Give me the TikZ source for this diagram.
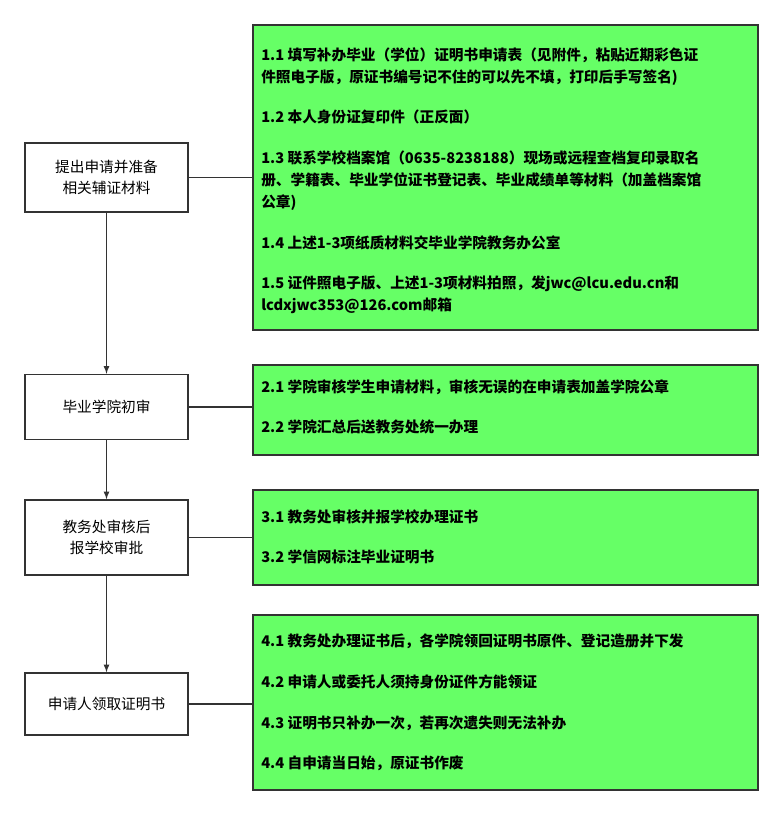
\documentclass[tikz,border=0pt]{standalone}
\usepackage{fontspec}
\setmainfont{Noto Sans CJK SC}
\begin{document}
\begin{tikzpicture}[x=0.75pt,y=-0.75pt,
  lbox/.style={draw=black!80,line width=1pt,fill=white,align=center,font=\fontsize{11}{15.5}\selectfont},
  gbox/.style={draw=black!80,line width=1pt,fill={rgb,255:red,102;green,255;blue,102}},
  gtext/.style={anchor=north west,align=left,inner sep=0pt,font=\bfseries\fontsize{11}{16.5}\selectfont},
  conn/.style={draw=black!80,line width=1pt},
  arr/.style={conn,-latex}]
\useasboundingbox (0,0) rectangle (783,816);
\fill[white] (0,0) rectangle (783,816);
\node[lbox,minimum width=163*0.75pt,minimum height=69*0.75pt] (l1) at (106.5,177.5) {提出申请并准备\\相关辅证材料};
\node[lbox,minimum width=163*0.75pt,minimum height=65*0.75pt] (l2) at (106.5,407) {毕业学院初审};
\node[lbox,minimum width=163*0.75pt,minimum height=75*0.75pt] (l3) at (106.5,537.5) {教务处审核后\\报学校审批};
\node[lbox,minimum width=163*0.75pt,minimum height=62*0.75pt] (l4) at (106.5,704) {申请人领取证明书};
\draw[gbox] (253,25) rectangle (758,330);
\draw[gbox] (253,365) rectangle (758,455);
\draw[gbox] (253,490) rectangle (758,585);
\draw[gbox] (253,615) rectangle (758,790);
\coordinate (c1) at (253,177.5);
\coordinate (c2) at (253,407);
\coordinate (c3) at (253,537.5);
\coordinate (c4) at (253,704);
\draw[conn] (l1.east) -- (c1);
\draw[conn] (l2.east) -- (c2);
\draw[conn] (l3.east) -- (c3);
\draw[conn] (l4.east) -- (c4);
\draw[arr] (l1.south) -- (l2.north);
\draw[arr] (l2.south) -- (l3.north);
\draw[arr] (l3.south) -- (l4.north);
\node[gtext] (t1) at (261,47) {1.1 填写补办毕业（学位）证明书申请表（见附件，粘贴近期彩色证\\件照电子版，原证书编号记不住的可以先不填，打印后手写签名)\\[14pt]
1.2 本人身份证复印件（正反面）\\[14pt]
1.3 联系学校档案馆（0635-8238188）现场或远程查档复印录取名\\册、学籍表、毕业学位证书登记表、毕业成绩单等材料（加盖档案馆\\公章)\\[14pt]
1.4 上述1-3项纸质材料交毕业学院教务办公室\\[14pt]
1.5 证件照电子版、上述1-3项材料拍照，发jwc@lcu.edu.cn和\\lcdxjwc353@126.com邮箱};
\node[gtext] (t2) at (261,379) {2.1 学院审核学生申请材料，审核无误的在申请表加盖学院公章\\[14pt]
2.2 学院汇总后送教务处统一办理};
\node[gtext] (t3) at (261,509) {3.1 教务处审核并报学校办理证书\\[14pt]
3.2 学信网标注毕业证明书};
\node[gtext] (t4) at (261,634) {4.1 教务处办理证书后，各学院领回证明书原件、登记造册并下发\\[14pt]
4.2 申请人或委托人须持身份证件方能领证\\[14pt]
4.3 证明书只补办一次，若再次遗失则无法补办\\[14pt]
4.4 自申请当日始，原证书作废};
\end{tikzpicture}
\end{document}
